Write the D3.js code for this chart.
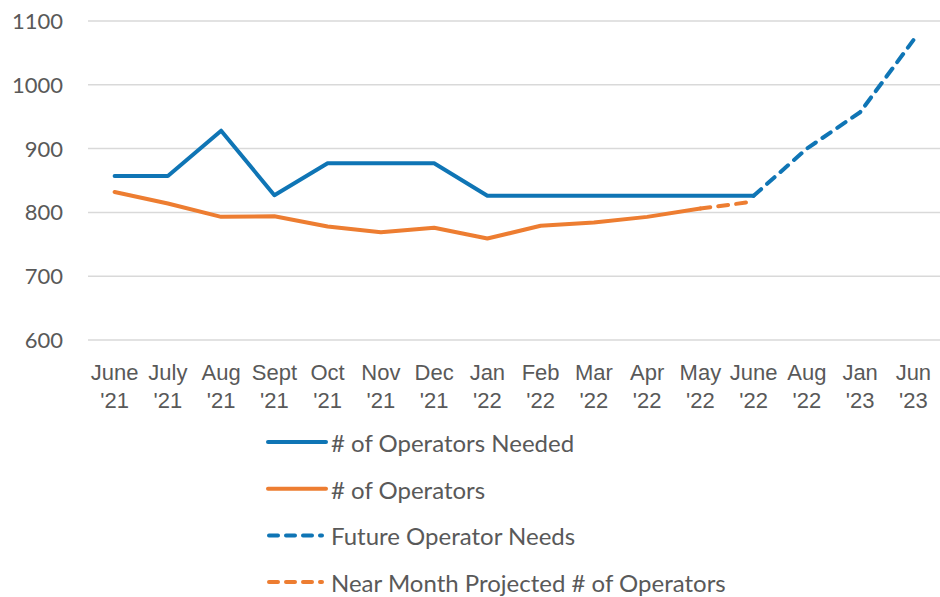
<!DOCTYPE html>
<html>
<head>
<meta charset="utf-8">
<script src="https://cdn.jsdelivr.net/npm/d3@7"></script>
<style>
  body { margin: 0; background: #fff; }
  text { fill: #595959; }
</style>
</head>
<body>
<div id="chart"></div>
<script>
width = 940
height = 597

// data
let months = ["June '21", "July '21", "Aug '21", "Sept '21", "Oct '21", "Nov '21", "Dec '21",
    "Jan '22", "Feb '22", "Mar '22", "Apr '22", "May '22", "June '22", "Aug '22", "Jan '23", "Jun '23"]
let neededMonths = months.slice(0, 13)
let neededValues = [857, 857, 928, 827, 877, 877, 877, 826, 826, 826, 826, 826, 826]
let operatorMonths = months.slice(0, 12)
let operatorValues = [832, 814, 793, 794, 778, 769, 776, 759, 779, 784, 793, 806]
let futureMonths = ["June '22", "Aug '22", "Jan '23", "Jun '23"]
let futureValues = [826, 900, 957, 1070]
let projectedMonths = ["May '22", "June '22"]
let projectedValues = [806, 817]
let yTicks = [600, 700, 800, 900, 1000, 1100]

let blue = "#0F75B5"
let orange = "#ED7D31"

let svg = d3.select("#chart")
    .append("svg")
    .attr("width", width)
    .attr("height", height)

let x = d3.scalePoint()
    .domain(months)
    .range([88, 940])
    .padding(0.5)

let y = d3.scaleLinear()
    .domain([600, 1100])
    .range([340, 21])

// gridlines
svg.append("g")
    .selectAll("line")
    .data(yTicks)
    .join("line")
    .attr("x1", 88)
    .attr("x2", 940)
    .attr("y1", d => y(d))
    .attr("y2", d => y(d))
    .attr("stroke", "#D9D9D9")
    .attr("stroke-width", 1.5)

// y labels
svg.append("g")
    .selectAll("text")
    .data(yTicks)
    .join("text")
    .attr("x", 63)
    .attr("y", d => y(d) + 8)
    .attr("text-anchor", "end")
    .style("font-family", "Lato, sans-serif")
    .style("font-size", "22px")
    .text(d => d)

// x labels, two lines each
let xl = svg.append("g")
    .selectAll("text")
    .data(months)
    .join("text")
    .attr("text-anchor", "middle")
    .style("font-family", "'Liberation Sans', sans-serif")
    .style("font-size", "22px")
xl.append("tspan")
    .attr("x", d => x(d))
    .attr("y", 380)
    .text(d => d.split(" ")[0])
xl.append("tspan")
    .attr("x", d => x(d))
    .attr("y", 408)
    .text(d => d.split(" ")[1])

let line = d3.line()
    .x(d => x(d[0]))
    .y(d => y(d[1]))

let series = [
    { name: "# of Operators Needed", months: neededMonths, values: neededValues, color: blue, dash: null },
    { name: "# of Operators", months: operatorMonths, values: operatorValues, color: orange, dash: null },
    { name: "Future Operator Needs", months: futureMonths, values: futureValues, color: blue, dash: "10,8" },
    { name: "Near Month Projected # of Operators", months: projectedMonths, values: projectedValues, color: orange, dash: "10,8" }
]

svg.append("g")
    .selectAll("path")
    .data(series)
    .join("path")
    .attr("d", s => line(s.months.map((m, i) => [m, s.values[i]])))
    .attr("fill", "none")
    .attr("stroke", s => s.color)
    .attr("stroke-width", 4)
    .attr("stroke-linejoin", "round")
    .attr("stroke-linecap", "round")
    .attr("stroke-dasharray", s => s.dash)

// legend
let legend = svg.append("g")
series.forEach((s, i) => {
    let row = legend.append("g")
        .attr("transform", "translate(0, " + (442 + i * 46.7) + ")")
    row.append("line")
        .attr("x1", s.dash ? 269 : 268)
        .attr("x2", s.dash ? 322 : 326)
        .attr("stroke", s.color)
        .attr("stroke-width", 4)
        .attr("stroke-linecap", "round")
        .attr("stroke-dasharray", s.dash ? "9,8" : null)
    row.append("text")
        .attr("x", 331)
        .attr("y", 10)
        .style("font-family", "Lato, sans-serif")
        .style("font-size", "24px")
        .text(s.name)
})
</script>
</body>
</html>
